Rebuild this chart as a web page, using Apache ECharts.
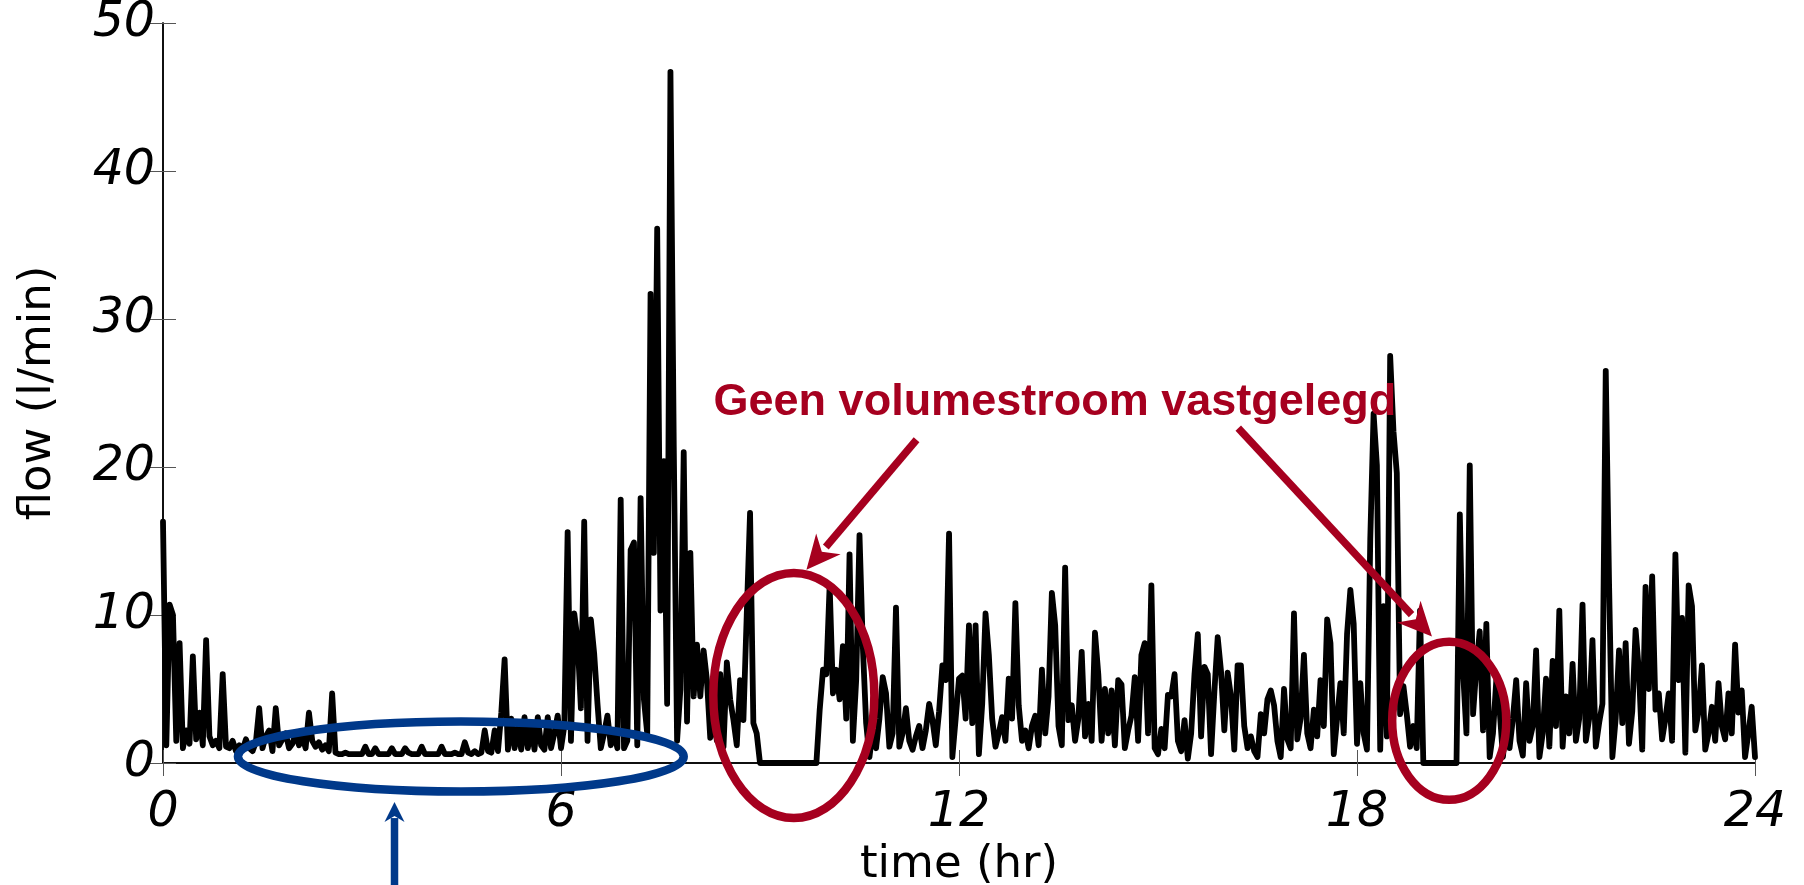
<!DOCTYPE html>
<html>
<head>
<meta charset="utf-8">
<title>flow (l/min)</title>
<script src="https://cdn.jsdelivr.net/npm/echarts@6/dist/echarts.min.js"></script>
<style>
  html, body { margin: 0; padding: 0; background: #ffffff; }
  #chart { width: 1804px; height: 885px; }
</style>
</head>
<body>
<div id="chart"></div>
<script>
// Measured flow over one day, one sample every 3 minutes (0.05 hr).
const STEP_HR = 0.05;
const xTickValues = [0, 6, 12, 18, 24];
const yTickValues = [0, 10, 20, 30, 40, 50];

// l/min, one row per hour (20 samples each), last value at 24:00
const flow = [
  16.3, 1.2, 10.7, 10.0, 1.5, 8.1, 1.0, 2.2, 1.3, 7.2, 1.6, 3.4, 1.2, 8.3, 1.8, 1.2, 1.5, 1.0, 6.0, 1.1,     // 0
  1.0, 1.5, 0.8, 1.2, 0.9, 1.6, 1.0, 0.8, 1.4, 3.7, 1.0, 1.8, 2.2, 0.8, 3.7, 1.2, 1.6, 2.0, 1.0, 1.3,        // 1
  2.0, 1.2, 1.8, 1.0, 3.4, 1.5, 1.1, 1.4, 0.9, 1.2, 0.8, 4.7, 0.7, 0.6, 0.6, 0.7, 0.6, 0.6, 0.6, 0.6,        // 2
  0.6, 1.1, 0.6, 0.6, 1.0, 0.6, 0.6, 0.6, 0.6, 1.0, 0.6, 0.6, 0.6, 1.0, 0.7, 0.6, 0.6, 0.6, 1.1, 0.6,        // 3
  0.6, 0.6, 0.6, 0.6, 1.1, 0.6, 0.6, 0.6, 0.7, 0.6, 0.6, 1.4, 0.7, 0.6, 0.8, 0.6, 0.7, 2.2, 0.8, 0.7,        // 4
  2.2, 0.8, 3.4, 7.0, 0.9, 3.0, 1.0, 2.4, 0.9, 3.1, 1.0, 2.5, 0.9, 3.1, 1.2, 0.9, 3.1, 1.0, 2.0, 3.2,        // 5
  1.0, 2.5, 15.6, 1.5, 10.1, 8.3, 3.7, 16.3, 1.5, 9.7, 7.4, 4.0, 1.0, 2.0, 3.2, 1.2, 2.0, 1.0, 17.8, 1.0,    // 6
  1.5, 14.4, 14.9, 1.2, 17.9, 4.3, 2.0, 31.7, 14.2, 36.1, 10.3, 20.4, 4.0, 46.7, 21.4, 1.5, 5.0, 21.0, 2.8, 14.2, // 7
  4.5, 8.0, 4.5, 7.6, 5.6, 1.7, 3.0, 1.5, 6.0, 1.1, 6.8, 4.3, 2.9, 1.2, 5.6, 2.9, 10.0, 16.9, 2.7, 2.0,      // 8
  0, 0, 0, 0, 0, 0, 0, 0, 0, 0, 0, 0, 0, 0, 0, 0, 0, 0, 3.6, 6.3,                                            // 9
  6.0, 12.0, 4.7, 6.3, 4.3, 7.9, 3.0, 14.1, 1.5, 5.6, 15.4, 7.9, 2.7, 0.4, 2.2, 1.0, 3.0, 5.8, 4.7, 1.1,     // 10
  2.0, 10.5, 1.1, 2.0, 3.7, 1.5, 0.9, 1.8, 2.5, 1.0, 2.2, 4.0, 2.9, 1.2, 3.5, 6.6, 5.6, 15.5, 0.4, 3.0,     // 11
  5.7, 5.9, 3.0, 9.3, 2.7, 9.3, 0.6, 4.0, 10.1, 7.3, 3.0, 1.1, 2.0, 3.1, 1.5, 5.7, 3.0, 10.8, 3.9, 1.5,     // 12
  2.2, 1.0, 2.5, 3.2, 1.2, 6.3, 2.0, 4.5, 11.5, 9.3, 2.5, 1.2, 13.2, 2.9, 3.9, 1.5, 3.0, 7.5, 1.8, 4.0,     // 13
  1.5, 8.8, 6.0, 1.5, 5.0, 2.0, 4.9, 1.2, 5.6, 5.3, 1.0, 2.2, 3.2, 5.8, 1.5, 7.3, 8.1, 2.0, 12.0, 1.0,      // 14
  0.6, 2.3, 1.0, 4.6, 4.5, 6.0, 1.5, 0.8, 2.9, 0.3, 2.0, 6.0, 8.7, 1.8, 6.5, 6.0, 0.6, 4.8, 8.5, 6.2,       // 15
  2.2, 6.1, 4.5, 0.9, 6.6, 6.6, 2.5, 1.0, 1.8, 0.8, 0.4, 3.3, 2.0, 4.3, 4.9, 3.9, 1.5, 0.4, 5.0, 1.6,       // 16
  1.0, 10.1, 1.6, 3.0, 7.3, 2.0, 1.0, 3.6, 1.8, 5.6, 2.5, 9.7, 8.1, 0.6, 3.0, 5.4, 2.0, 8.7, 11.7, 9.4,     // 17
  1.3, 5.4, 2.0, 0.9, 15.1, 23.6, 20.1, 0.9, 10.6, 1.8, 27.5, 22.4, 19.6, 3.3, 5.2, 3.3, 1.1, 2.5, 1.0, 10.3, // 18
  0, 0, 0, 0, 0, 0, 0, 0, 0, 0, 0, 16.8, 6.1, 2.0, 20.1, 3.3, 6.5, 8.9, 2.2, 9.4,                          // 19
  0.4, 2.0, 5.6, 3.6, 0.4, 2.7, 1.0, 3.0, 5.6, 1.5, 0.5, 5.4, 1.5, 2.5, 7.6, 0.4, 2.0, 5.7, 1.1, 6.9,       // 20
  2.5, 10.3, 1.1, 4.5, 2.0, 6.7, 1.5, 3.0, 10.7, 1.5, 3.0, 8.3, 1.1, 2.7, 4.0, 26.5, 12.1, 0.4, 3.0, 7.6,   // 21
  2.7, 8.1, 1.3, 3.5, 9.0, 6.2, 0.9, 11.9, 5.0, 12.6, 3.6, 4.7, 1.6, 3.0, 4.7, 1.5, 14.1, 5.6, 9.8, 0.7,    // 22
  12.0, 10.6, 2.2, 3.5, 6.6, 0.9, 2.0, 3.8, 1.5, 5.4, 2.5, 1.6, 4.7, 2.0, 8.0, 3.4, 4.9, 0.4, 2.0, 3.8,     // 23
  0.4
];

const flowSeries = flow.map((v, i) => [+(i * STEP_HR).toFixed(2), v]);

// Annotation geometry, given in axis units (hr, l/min)
const notes = {
  label: { text: 'Geen volumestroom vastgelegd', at: [8.30, 22.85] },
  nightEllipse: { c: [4.49, 0.44], r: [3.36, 2.37] },
  gapEllipses: [
    { c: [9.51, 4.56], r: [1.214, 8.28] },
    { c: [19.39, 2.85], r: [0.86, 5.34] }
  ],
  gapArrows: [
    { from: [11.36, 21.84], to: [9.70, 13.05] },
    { from: [16.21, 22.63], to: [19.13, 8.54] }
  ],
  nightArrow: { from: [3.49, -8.8], to: [3.49, -2.64] }
};

const RED = '#a6001f';
const BLUE = '#00398a';
const tickFont = { fontFamily: 'DejaVu Sans', fontStyle: 'italic', fontSize: 49, color: '#000' };
const nameFont = { fontFamily: 'DejaVu Sans', fontSize: 45, color: '#000' };

const frameAxis = {
  axisLine: { show: true, lineStyle: { color: '#000', width: 1.5 } },
  axisTick: { show: true, inside: true, length: 13, lineStyle: { color: '#555', width: 1 } },
  splitLine: { show: false }
};

const chart = echarts.init(document.getElementById('chart'), null, { renderer: 'canvas' });

chart.setOption({
  animation: false,
  backgroundColor: '#ffffff',
  grid: { left: 163, right: 49, top: 23, bottom: 122, containLabel: false, outerBoundsMode: 'none' },
  xAxis: [
    Object.assign({
      type: 'value', position: 'bottom', min: 0, max: 24, interval: 6,
      name: 'time (hr)', nameLocation: 'middle', nameGap: 69, nameTextStyle: nameFont,
      axisLabel: Object.assign({ margin: 26, formatter: v => xTickValues.includes(v) ? String(v) : '' }, tickFont)
    }, frameAxis),
    Object.assign({
      type: 'value', position: 'top', min: 0, max: 24, interval: 6,
      axisLabel: { show: false }
    }, frameAxis)
  ],
  yAxis: [
    Object.assign({
      type: 'value', position: 'left', min: 0, max: 50, interval: 10,
      name: 'flow (l/min)', nameLocation: 'middle', nameGap: 102, nameTextStyle: nameFont,
      axisLabel: Object.assign({ margin: 8, formatter: v => yTickValues.includes(v) ? String(v) : '' }, tickFont)
    }, frameAxis),
    Object.assign({
      type: 'value', position: 'right', min: 0, max: 50, interval: 10,
      axisLabel: { show: false }
    }, frameAxis)
  ],
  series: [{
    type: 'line',
    data: flowSeries,
    xAxisIndex: 0,
    yAxisIndex: 0,
    showSymbol: false,
    clip: false,
    z: 3,
    lineStyle: { color: '#000', width: 5.8, join: 'round', cap: 'round' }
  }]
});

// Annotations placed through the axes' own scales
function toPx(p) { return chart.convertToPixel({ xAxisIndex: 0, yAxisIndex: 0 }, p); }

function ellipse(e, color, width) {
  const c = toPx(e.c);
  const edge = toPx([e.c[0] + e.r[0], e.c[1] + e.r[1]]);
  return {
    type: 'ellipse', z: 100,
    shape: { cx: c[0], cy: c[1], rx: Math.abs(edge[0] - c[0]), ry: Math.abs(c[1] - edge[1]) },
    style: { fill: 'none', stroke: color, lineWidth: width }
  };
}

function arrow(a, color, width, headLen, headHalf) {
  const p0 = toPx(a.from), p1 = toPx(a.to);
  const dx = p1[0] - p0[0], dy = p1[1] - p0[1];
  const len = Math.hypot(dx, dy);
  const ux = dx / len, uy = dy / len;
  const nx = -uy, ny = ux;
  const bx = p1[0] - ux * headLen, by = p1[1] - uy * headLen;
  return [
    {
      type: 'line', z: 100,
      shape: { x1: p0[0], y1: p0[1], x2: bx + ux * 4, y2: by + uy * 4 },
      style: { stroke: color, lineWidth: width }
    },
    {
      type: 'polygon', z: 100,
      shape: { points: [
        [p1[0], p1[1]],
        [bx + nx * headHalf, by + ny * headHalf],
        [bx + ux * headLen * 0.3, by + uy * headLen * 0.3],
        [bx - nx * headHalf, by - ny * headHalf]
      ] },
      style: { fill: color }
    }
  ];
}

const labelPos = toPx(notes.label.at);
const graphics = [
  ellipse(notes.nightEllipse, BLUE, 8.5),
  ...notes.gapEllipses.map(e => ellipse(e, RED, 8.5)),
  ...notes.gapArrows.flatMap(a => arrow(a, RED, 7.5, 34, 16)),
  ...arrow(notes.nightArrow, BLUE, 7.5, 20, 10),
  {
    type: 'text', z: 100,
    x: labelPos[0], y: labelPos[1],
    style: {
      text: notes.label.text,
      fill: RED,
      font: 'bold 45px "Liberation Sans", Arial, sans-serif',
      textAlign: 'left',
      textVerticalAlign: 'bottom'
    }
  }
];

chart.setOption({ graphic: graphics });
</script>
</body>
</html>
